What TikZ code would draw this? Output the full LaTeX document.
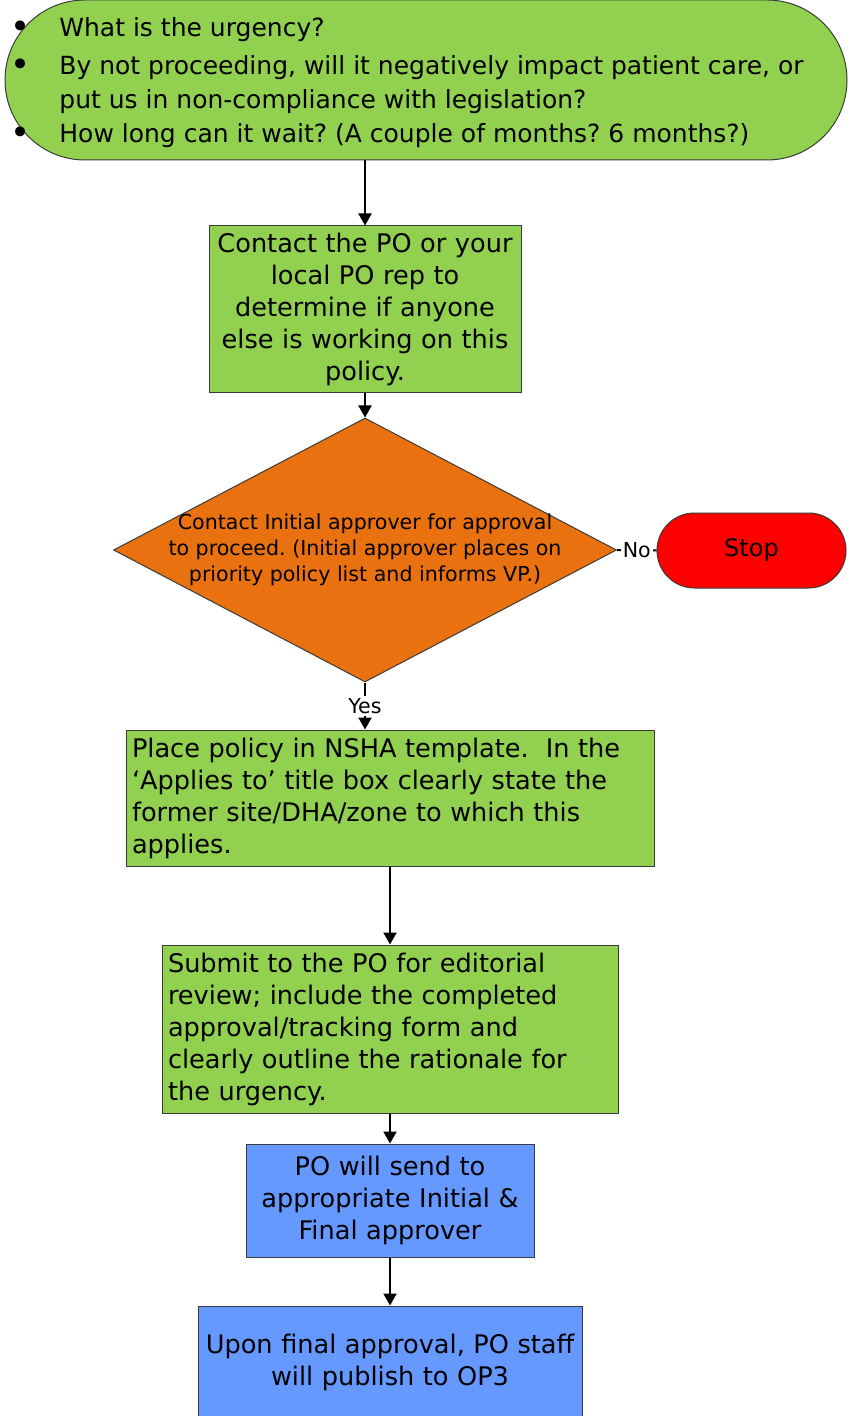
\documentclass[tikz,border=0pt]{standalone}
\usepackage{fontspec}
\setmainfont{DejaVu Sans}
\usetikzlibrary{shapes.geometric,arrows.meta}
\definecolor{flowgreen}{HTML}{92D050}
\definecolor{floworange}{HTML}{E9710F}
\definecolor{flowblue}{HTML}{6699FF}
\definecolor{flowred}{HTML}{FF0000}
\definecolor{edgegray}{HTML}{3A3A3A}
\newcommand{\bigbullet}{\makebox[24.5pt][l]{\raisebox{-1.2pt}{\fontsize{17}{17}\selectfont•}}}
\frenchspacing

\begin{document}
\begin{tikzpicture}[x=0.5pt, y=-0.5pt,
  boxtext/.style={font=\fontsize{12.8}{16}\selectfont},
  smalltext/.style={font=\fontsize{10.3}{13}\selectfont},
  greenbox/.style={draw=edgegray, line width=0.5pt, fill=flowgreen, inner xsep=3pt, inner ysep=0pt, boxtext},
  bluebox/.style={greenbox, fill=flowblue},
  terminal/.style={draw=edgegray, line width=0.5pt, rounded corners=#1, inner sep=0pt},
  decision/.style={diamond, draw=edgegray, line width=0.5pt, fill=floworange, inner sep=0pt},
  flow/.style={line width=1pt, -{Triangle[length=6pt,width=6.5pt]}}
]
\useasboundingbox (0,0) rectangle (850,1416);

% start: the three questions
\node[terminal=40pt, fill=flowgreen, minimum width=421pt, minimum height=80pt] (urgency) at (426,80) {};
\node[anchor=west, inner sep=0pt, align=left, font=\fontsize{12.5}{17}\selectfont] (urgtext) at (10,82.5)
  {\bigbullet What is the urgency?\\[2pt]
   \bigbullet By not proceeding, will it negatively impact patient care, or\\
   \hspace*{24.5pt}put us in non-compliance with legislation?\\
   \bigbullet How long can it wait? (A couple of months? 6 months?)};

% boxes
\node[greenbox, minimum width=156pt, minimum height=83.5pt, text width=150pt, align=center] (contact) at (365,309.5)
  {Contact the PO or your\\ local PO rep to\\ determine if anyone\\ else is working on this\\ policy.};
\node[decision, minimum width=251.5pt, minimum height=132pt] (approve) at (365,550) {};
\node[smalltext, align=center, inner sep=0pt] (approvetext) at (approve.center)
  {Contact Initial approver for approval\\ to proceed. (Initial approver places on\\ priority policy list and informs VP.)};
\node[terminal=18.75pt, fill=flowred, minimum width=94.5pt, minimum height=37.5pt, font=\fontsize{12}{14}\selectfont] (stop) at (751.5,550.5) {Stop};
\node[greenbox, minimum width=264pt, minimum height=68pt, text width=258pt, align=left] (place) at (390,798)
  {Place policy in NSHA template.\ \ In the\\ ‘Applies to’ title box clearly state the\\ former site/DHA/zone to which this\\ applies.};
\node[greenbox, minimum width=228pt, minimum height=84pt, text width=222pt, align=left] (submit) at (390,1029)
  {Submit to the PO for editorial\\ review; include the completed\\ approval/tracking form and\\ clearly outline the rationale for\\ the urgency.};
\node[bluebox, minimum width=144pt, minimum height=56.5pt, text width=138pt, align=center] (send) at (390,1200.5)
  {PO will send to\\ appropriate Initial \&\\ Final approver};
\node[bluebox, inner xsep=1pt, minimum width=192pt, minimum height=56pt, text width=190pt, align=center] (publish) at (390,1362)
  {Upon final approval, PO staff\\ will publish to OP3};

% connectors
\draw[flow] (urgency.south -| contact.north) -- (contact.north);
\draw[flow] (contact.south) -- (approve.north);
\draw[line width=1pt] (approve.east) -- node[fill=white, inner sep=1pt, smalltext] (no) {No} (stop.west);
\draw[flow] (approve.south) -- node[fill=white, inner sep=1pt, smalltext] (yes) {Yes} (approve.south |- place.north);
\draw[flow] (place.south) -- (submit.north);
\draw[flow] (submit.south) -- (send.north);
\draw[flow] (send.south) -- (publish.north);
\end{tikzpicture}
\end{document}
